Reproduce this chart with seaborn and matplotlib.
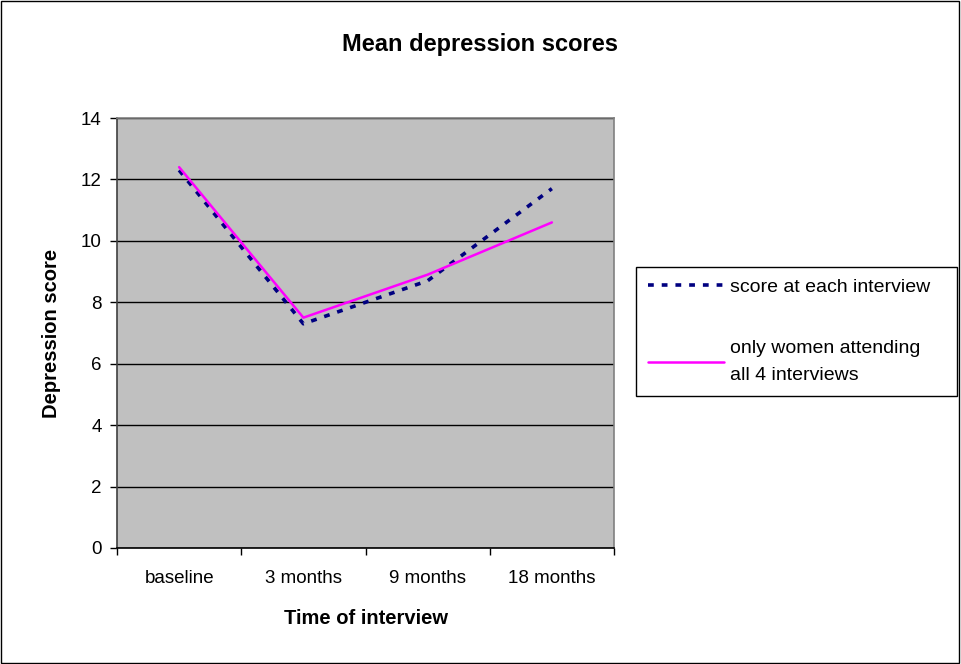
import pandas as pd
import matplotlib.pyplot as plt
import seaborn as sns
from matplotlib.patches import Rectangle

# Data
times = ["baseline", "3 months", "9 months", "18 months"]
score_each = [12.3, 7.3, 8.7, 11.7]
score_all4 = [12.4, 7.5, 8.9, 10.6]
label_each = "score at each interview"
label_all4 = "only women attending\nall 4 interviews"

df = pd.DataFrame({"Time": times, "each": score_each, "all4": score_all4})

sns.set_style("white")
plt.rcParams["font.family"] = ["Liberation Sans", "DejaVu Sans"]
plt.rcParams["text.color"] = "black"
plt.rcParams["xtick.color"] = "black"
plt.rcParams["ytick.color"] = "black"
plt.rcParams["axes.labelcolor"] = "black"

fig = plt.figure(figsize=(9.61, 6.64), dpi=100)
fig.patches.append(Rectangle((0.001, 0.001), 0.997, 0.997, transform=fig.transFigure,
                             fill=False, edgecolor="black", linewidth=1))
ax = fig.add_axes([117/961, 1 - 548/664, (614 - 117)/961, (548 - 118)/664])
ax.set_facecolor("#C0C0C0")

sns.lineplot(data=df, x="Time", y="each", ax=ax, color="#000080", linewidth=2.6,
             linestyle=(0, (1.6, 2.2)), label=label_each, sort=False)
sns.lineplot(data=df, x="Time", y="all4", ax=ax, color="#FF00FF", linewidth=1.8,
             label=label_all4, sort=False)

ax.set_xlim(-0.5, 3.5)
ax.set_ylim(0, 14)
ax.set_yticks(range(0, 15, 2))
ax.yaxis.grid(True, color="black", linewidth=1)
ax.set_axisbelow(True)

# category boundaries get the tick marks, labels sit at the centres
ax.set_xticks([-0.5, 0.5, 1.5, 2.5, 3.5])
ax.set_xticklabels([])
ax.set_xticks(range(len(times)), minor=True)
ax.set_xticklabels(times, minor=True)
ax.tick_params(axis="x", which="minor", length=0, pad=16, labelsize=13.5)
ax.tick_params(axis="x", which="major", length=5, width=1, direction="out", color="black")
ax.tick_params(axis="y", length=5, width=1, direction="out", color="black", labelsize=13.5, pad=6)
ax.tick_params(bottom=True, left=True, which="major")

for side, sp in ax.spines.items():
    sp.set_color("#808080")
    sp.set_linewidth(1.2)
ax.spines["left"].set_color("#404040")
ax.spines["bottom"].set_color("black")

ax.set_xlabel("Time of interview", fontsize=14.5, fontweight="bold", labelpad=16)
ax.set_ylabel("Depression score", fontsize=14.5, fontweight="bold", labelpad=14)
fig.text(480/961, 1 - 44/664, "Mean depression scores", ha="center", va="center",
         fontsize=17, fontweight="bold")

leg = ax.legend(loc="upper left",
                bbox_to_anchor=(636/961, 1 - 400/664, (957 - 636)/961, (400 - 267)/664),
                bbox_transform=fig.transFigure, mode="expand", frameon=True, fancybox=False,
                edgecolor="black", framealpha=1, facecolor="white", fontsize=14,
                handlelength=3.9, handletextpad=0.35, labelspacing=2.25, borderaxespad=0,
                borderpad=0.6)
leg.get_frame().set_linewidth(1)
for t in leg.get_texts():
    t.set_linespacing(1.8)
    t.set_color("black")

plt.savefig("out.png", dpi=100)
